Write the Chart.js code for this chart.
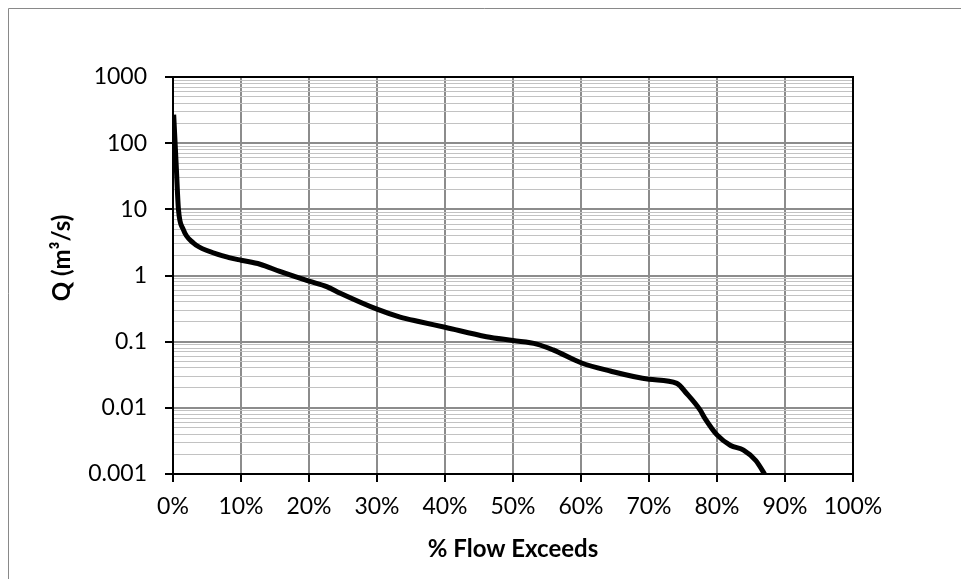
<!DOCTYPE html>
<html>
<head>
  <script src="https://cdn.jsdelivr.net/npm/chart.js"></script>
  <style>
    body { margin: 0; background: #fff; }
  </style>
</head>
<body>
  <canvas id="fdcCanvas" width="961" height="579"></canvas>

  <script>
    // Flow duration curve values
    var exceedPct = [0.1, 0.5, 0.8, 1.5, 3, 5.4, 8.4, 10, 12.8, 15.7, 20, 22.6, 24.6, 30, 33.4, 36.3, 40, 46.1, 50, 53.5, 55.9, 60, 64.3, 70, 74.1, 75.5, 77.5, 78.2, 80, 82, 83.9, 85.7, 87];
    var flowQ = [270, 40, 10, 5, 3.1, 2.3, 1.85, 1.7, 1.48, 1.15, 0.82, 0.68, 0.54, 0.31, 0.235, 0.2, 0.165, 0.119, 0.104, 0.092, 0.075, 0.048, 0.036, 0.027, 0.0234, 0.0166, 0.0093, 0.007, 0.0039, 0.0027, 0.0023, 0.0016, 0.001];

    // Axis ticks
    var xTicks = [0, 10, 20, 30, 40, 50, 60, 70, 80, 90, 100];
    var yDecades = [-3, -2, -1, 0, 1, 2, 3];
    var yLabels = ['0.001', '0.01', '0.1', '1', '10', '100', '1000'];

    var yTickValues = [];
    yDecades.forEach(function(e, i) {
      var last = i === yDecades.length - 1 ? 1 : 9;
      for (var m = 1; m <= last; m++) {
        yTickValues.push(parseFloat((m * Math.pow(10, e)).toPrecision(3)));
      }
    });

    function isMajor(v) {
      var l = Math.log10(v);
      return Math.abs(l - Math.round(l)) < 1e-9;
    }

    var points = exceedPct.map(function(p, i) {
      return { x: p, y: flowQ[i] };
    });

    // frame, plot border and axis titles
    var decorPlugin = {
      id: 'decor',
      beforeDraw: function(chart) {
        var ctx = chart.ctx;
        ctx.save();
        ctx.strokeStyle = '#898989';
        ctx.lineWidth = 1;
        ctx.beginPath();
        ctx.moveTo(8.5, 579);
        ctx.lineTo(8.5, 8.5);
        ctx.lineTo(961, 8.5);
        ctx.stroke();
        ctx.restore();
      },
      afterDraw: function(chart) {
        var ctx = chart.ctx;
        var a = chart.chartArea;
        ctx.save();
        ctx.strokeStyle = '#000';
        ctx.lineWidth = 2;
        ctx.strokeRect(a.left, a.top, a.right - a.left, a.bottom - a.top);

        ctx.fillStyle = '#000';
        ctx.font = 'bold 24px Lato';
        ctx.textAlign = 'center';
        ctx.textBaseline = 'middle';
        ctx.fillText('% Flow Exceeds', (a.left + a.right) / 2, 549);

        ctx.translate(62, 258);
        ctx.rotate(-Math.PI / 2);
        ctx.fillText('Q (m\u00B3/s)', 0, 0);
        ctx.restore();
      }
    };

    new Chart(document.getElementById('fdcCanvas'), {
      type: 'line',
      data: {
        datasets: [{
          data: points,
          borderColor: '#000',
          borderWidth: 5,
          pointRadius: 0,
          cubicInterpolationMode: 'monotone',
          fill: false
        }]
      },
      options: {
        responsive: false,
        animation: false,
        layout: { padding: { top: 77, right: 108, left: 0, bottom: 0 } },
        plugins: {
          legend: { display: false },
          tooltip: { enabled: false }
        },
        scales: {
          x: {
            type: 'linear',
            min: 0,
            max: 100,
            afterBuildTicks: function(scale) {
              scale.ticks = xTicks.map(function(v) { return { value: v }; });
            },
            afterFit: function(scale) { scale.height = 105; },
            ticks: {
              autoSkip: false,
              maxRotation: 0,
              padding: 11,
              color: '#000',
              font: { family: 'Lato', size: 23 },
              callback: function(v) { return v + '%'; }
            },
            grid: {
              color: '#8c8c8c',
              lineWidth: 2,
              tickColor: '#000',
              tickLength: 8
            },
            border: { color: '#000', width: 2 }
          },
          y: {
            type: 'logarithmic',
            min: 0.001,
            max: 1000,
            afterBuildTicks: function(scale) {
              scale.ticks = yTickValues.map(function(v) { return { value: v }; });
            },
            afterFit: function(scale) { scale.width = 173; },
            ticks: {
              autoSkip: false,
              padding: 18,
              color: '#000',
              font: { family: 'Lato', size: 23 },
              callback: function(v) {
                if (!isMajor(v)) return '';
                return yLabels[yDecades.indexOf(Math.round(Math.log10(v)))];
              }
            },
            grid: {
              color: function(c) { return c.tick && isMajor(c.tick.value) ? '#8c8c8c' : '#c2c2c2'; },
              lineWidth: function(c) { return c.tick && isMajor(c.tick.value) ? 2 : 1; },
              tickColor: function(c) { return c.tick && isMajor(c.tick.value) ? '#000' : 'rgba(0,0,0,0)'; },
              tickLength: 8
            },
            border: { color: '#000', width: 2 }
          }
        }
      },
      plugins: [decorPlugin]
    });
  </script>
</body>
</html>
